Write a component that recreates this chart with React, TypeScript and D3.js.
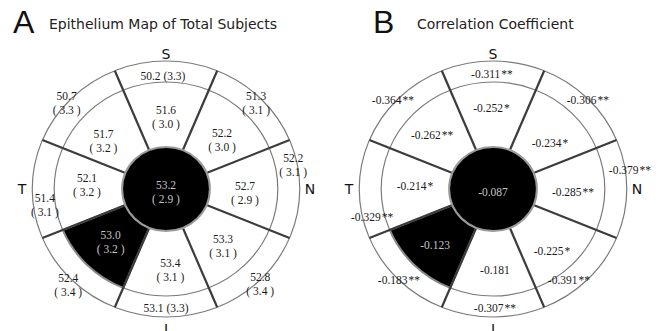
import React from 'react';
import * as d3 from 'd3';

// regions, clockwise from superior
const regions = ['S', 'SN', 'N', 'IN', 'I', 'IT', 'T', 'ST'];

// panel A: epithelial thickness, mean (SD), um
const centerMean = 53.2;
const centerSD = 2.9;
const innerMean = [51.6, 52.2, 52.7, 53.3, 53.4, 53.0, 52.1, 51.7];
const innerSD = [3.0, 3.0, 2.9, 3.1, 3.1, 3.2, 3.2, 3.2];
const outerMean = [50.2, 51.3, 52.2, 52.8, 53.1, 52.4, 51.4, 50.7];
const outerSD = [3.3, 3.1, 3.1, 3.4, 3.3, 3.4, 3.1, 3.3];

// panel B: correlation coefficients and significance marks
const centerCorr = -0.087;
const innerCorr = [-0.252, -0.234, -0.285, -0.225, -0.181, -0.123, -0.214, -0.262];
const innerSig = ['*', '*', '**', '*', '', '', '*', '**'];
const outerCorr = [-0.311, -0.306, -0.379, -0.391, -0.307, -0.183, -0.329, -0.364];
const outerSig = ['**', '**', '**', '**', '**', '**', '**', '**'];

// inner sectors shaded black
const shadedInner = ['IT'];

// label anchors (angle deg clockwise from top, radius)
const labelPosA = {
  inner: [[0, 72], [47.6, 72.6], [93, 75.7], [136.3, 79], [177, 81], [225, 75], [273, 75.7], [309, 77]],
  outer: [[358.5, 113], [45, 122], [79, 124], [136.5, 131], [180, 119], [224.3, 134], [262, 117], [312, 128]],
};
const labelPosB = {
  inner: [[359, 81], [49.8, 71.3], [92.2, 76.6], [137.7, 83.9], [178.7, 81], [224.7, 78.8], [272.3, 74.7], [312.8, 79.5]],
  outer: [[359.5, 115], [45.6, 127], [81.7, 132.4], [141.4, 116.5], [179.1, 119], [224.7, 128], [256.4, 119], [312.9, 130.7]],
};

const R0 = 42, R1 = 107, R2 = 128;
const SX = 1.045;
const serif = "'Liberation Serif', 'Times New Roman', Times, serif";
const sans = "'DejaVu Sans', Verdana, sans-serif";

const rad = d3.scaleLinear().domain([0, 360]).range([0, 2 * Math.PI]);

function polar(cx: number, cy: number, a: number, r: number) {
  return [cx + SX * r * Math.sin(rad(a)), cy - r * Math.cos(rad(a))];
}

type Label = { lines: React.ReactNode[]; dark?: boolean };

function Target(props: {
  cx: number; cy: number; letter: string; title: string; letterX: number; titleX: number;
  center: Label; inner: Label[]; outer: Label[];
  pos: { inner: number[][]; outer: number[][] };
}) {
  const { cx, cy } = props;
  const sectorArc = d3.arc<any>().innerRadius(R0).outerRadius(R1);
  const step = 360 / regions.length;
  const bounds = regions.map((_, i) => i * step - step / 2);

  const renderLabel = (lab: Label, x: number, y: number, key: string) => {
    const n = lab.lines.length;
    return (
      <text key={key} x={x} y={y} textAnchor="middle" style={{ fontFamily: serif, fontSize: 11.5 }}
        fill={lab.dark ? '#c4c4c4' : '#1a1a1a'}>
        {lab.lines.map((l, j) => (
          <tspan key={j} x={x} y={y + (j - (n - 1) / 2) * 14} dominantBaseline="central">{l}</tspan>
        ))}
      </text>
    );
  };

  return (
    <g>
      <text x={props.letterX} y={33} style={{ fontFamily: "'Liberation Sans', Arial, sans-serif", fontSize: 32 }} fill="#111">{props.letter}</text>
      <text x={props.titleX} y={29} style={{ fontFamily: sans, fontSize: 14 }} fill="#222">{props.title}</text>

      <g transform={`translate(${cx},${cy}) scale(${SX},1)`}>
        <circle r={R2} fill="#fff" stroke="#7a7a7a" strokeWidth={1.2} vectorEffect="non-scaling-stroke" />
        <circle r={R1} fill="none" stroke="#7a7a7a" strokeWidth={1.2} vectorEffect="non-scaling-stroke" />
        {regions.map((reg, i) => shadedInner.includes(reg) ? (
          <path key={reg} d={sectorArc({ startAngle: rad(bounds[i]), endAngle: rad(bounds[i] + step) }) || ''}
            fill="#000" stroke="#8a8a8a" strokeWidth={2} vectorEffect="non-scaling-stroke" />
        ) : null)}
        {bounds.map((b, i) => {
          const a = rad(b);
          return (
            <line key={i} x1={R0 * Math.sin(a)} y1={-R0 * Math.cos(a)} x2={R2 * Math.sin(a)} y2={-R2 * Math.cos(a)}
              stroke="#3c3c3c" strokeWidth={2.2} vectorEffect="non-scaling-stroke" />
          );
        })}
        <circle r={R0} fill="#000" stroke="#9a9a9a" strokeWidth={2} vectorEffect="non-scaling-stroke" />
      </g>

      <g style={{ fontFamily: sans, fontSize: 14 }} fill="#111" textAnchor="middle">
        <text x={cx} y={59}>S</text>
        <text x={cx - 144} y={194}>T</text>
        <text x={cx + 144} y={194}>N</text>
        <text x={cx} y={334}>I</text>
      </g>

      {renderLabel(props.center, cx, cy + 3, 'c')}
      {props.inner.map((lab, i) => {
        const [x, y] = polar(cx, cy, props.pos.inner[i][0], props.pos.inner[i][1]);
        return renderLabel(lab, x, y, 'i' + i);
      })}
      {props.outer.map((lab, i) => {
        const [x, y] = polar(cx, cy, props.pos.outer[i][0], props.pos.outer[i][1]);
        return renderLabel(lab, x, y, 'o' + i);
      })}
    </g>
  );
}

const f1 = d3.format('.1f');
const f3 = d3.format('.3f');

function meanLabel(m: number, sd: number, dark = false): Label {
  return { lines: [f1(m), `( ${f1(sd)} )`], dark };
}
function corrLabel(c: number, sig: string, dark = false): Label {
  return { lines: [<>{f3(c).replace('−', '-')}<tspan dx={1}>{sig}</tspan></>], dark };
}

export default function App() {
  const aInner = innerMean.map((m, i) => meanLabel(m, innerSD[i], shadedInner.includes(regions[i])));
  const aOuter = outerMean.map((m, i) =>
    regions[i] === 'S' || regions[i] === 'I'
      ? { lines: [`${f1(m)}  (${f1(outerSD[i])})`] }
      : meanLabel(m, outerSD[i]));
  const bInner = innerCorr.map((c, i) => corrLabel(c, innerSig[i], shadedInner.includes(regions[i])));
  const bOuter = outerCorr.map((c, i) => corrLabel(c, outerSig[i]));

  return (
    <svg width={661} height={331} style={{ position: 'absolute', left: 0, top: 0, background: '#fff' }}>
      <rect width={661} height={331} fill="#fff" />
      <Target cx={166} cy={189} letter="A" letterX={13} titleX={49} title="Epithelium Map of Total Subjects"
        center={meanLabel(centerMean, centerSD, true)} inner={aInner} outer={aOuter} pos={labelPosA} />
      <Target cx={493} cy={189} letter="B" letterX={373} titleX={417} title="Correlation Coefficient"
        center={corrLabel(centerCorr, '', true)} inner={bInner} outer={bOuter} pos={labelPosB} />
    </svg>
  );
}
